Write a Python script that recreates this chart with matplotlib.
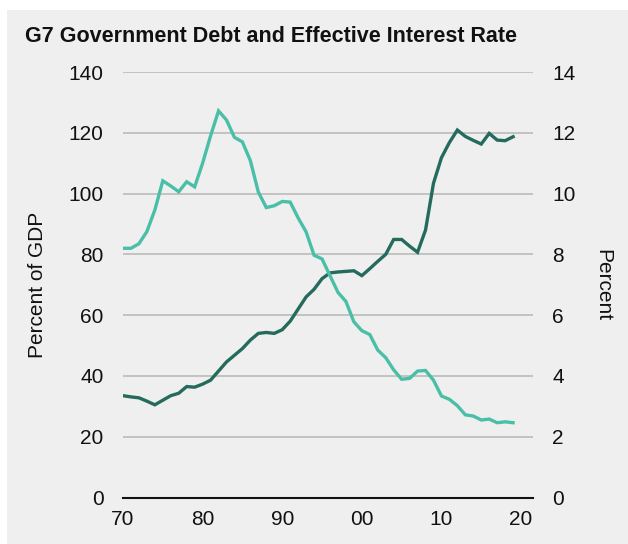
import numpy as np
import matplotlib.pyplot as plt
from matplotlib.patches import Rectangle

plt.rcParams['font.family'] = ['Liberation Sans', 'DejaVu Sans']

years = list(range(1970, 2020))

# general government debt, percent of GDP
debt = [33.5, 33.1, 32.8, 31.7, 30.5, 32.0, 33.5, 34.3, 36.5, 36.3,
        37.3, 38.6, 41.6, 44.6, 46.8, 49.0, 51.8, 54.0, 54.3, 54.0,
        55.2, 58.0, 62.0, 66.0, 68.5, 72.0, 73.9, 74.2, 74.4, 74.6,
        73.0, 75.3, 77.7, 80.0, 84.9, 84.9, 82.7, 80.7, 88.0, 103.4,
        111.8, 116.8, 120.9, 118.8, 117.5, 116.3, 119.8, 117.6, 117.4, 118.7]

# effective interest rate, percent
rate = [8.20, 8.20, 8.35, 8.75, 9.46, 10.42, 10.25, 10.06, 10.39, 10.22,
        11.0, 11.9, 12.72, 12.42, 11.85, 11.70, 11.08, 10.05, 9.54, 9.60,
        9.74, 9.72, 9.20, 8.74, 7.97, 7.85, 7.30, 6.75, 6.45, 5.78,
        5.49, 5.36, 4.85, 4.60, 4.20, 3.89, 3.92, 4.16, 4.18, 3.86,
        3.34, 3.23, 3.02, 2.72, 2.68, 2.55, 2.58, 2.46, 2.49, 2.46]

xticks = [1970, 1980, 1990, 2000, 2010, 2020]
xlabels = ['70', '80', '90', '00', '10', '20']

dark = '#246b5d'
teal = '#4abfa7'
bg = '#efefef'
ink = '#111111'
fs = 15

W, H = 628, 544
fig = plt.figure(figsize=(W / 100, H / 100), dpi=100)
fig.patch.set_facecolor('white')
fig.patches.append(Rectangle((7 / W, 0), 1, 1 - 10 / H, transform=fig.transFigure,
                             facecolor=bg, edgecolor='none', zorder=-10))

ax = fig.add_axes([123 / W, 1 - 497.5 / H, 410 / W, 425.5 / H])
ax.patch.set_alpha(0)
ax2 = ax.twinx()

ax.set_xlim(1970, 2021.5)
ax.set_ylim(0, 140)
ax2.set_ylim(0, 14)
ax.set_yticks(range(0, 141, 20))
ax2.set_yticks(range(0, 15, 2))
ax.set_xticks(xticks)
ax.set_xticklabels(xlabels)

ax.grid(axis='y', color='#c2c2c2', linewidth=1.4)
ax.set_axisbelow(True)
for a in (ax, ax2):
    for s in a.spines.values():
        s.set_visible(False)
    a.tick_params(length=0, labelsize=fs, colors=ink)
ax.spines['bottom'].set_visible(True)
ax.spines['bottom'].set_linewidth(1.5)
ax.spines['bottom'].set_color(ink)
ax.tick_params(axis='y', pad=14)
ax.tick_params(axis='x', pad=9)
ax2.tick_params(axis='y', pad=14)

ax.plot(years, debt, color=dark, linewidth=2.4, solid_joinstyle='miter', zorder=3)
ax2.plot(years, rate, color=teal, linewidth=2.4, solid_joinstyle='miter', zorder=3)

# axis titles
fig.text(38 / W, 1 - 285 / H, 'Percent of GDP', fontsize=fs, rotation=90,
         ha='center', va='center', color=ink)
fig.text(603 / W, 1 - 285 / H, 'Percent', fontsize=fs, rotation=270,
         ha='center', va='center', color=ink)

fig.text(25 / W, 1 - 37 / H, 'G7 Government Debt and Effective Interest Rate',
         fontsize=15.5, fontweight='bold', va='center', ha='left', color=ink)

fig.savefig('out.png', dpi=100, facecolor=fig.get_facecolor())
